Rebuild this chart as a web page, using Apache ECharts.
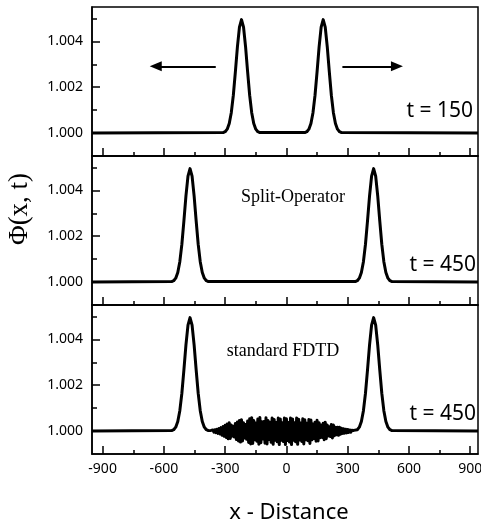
<!DOCTYPE html>
<html><head><meta charset="utf-8">
<script src="https://cdn.jsdelivr.net/npm/echarts@6/dist/echarts.min.js"></script>
<style>html,body{margin:0;padding:0;background:#fff}#c{width:481px;height:524px}</style>
</head><body><div id="c"></div>
<script>
// ---- axes ----
const xTicks = [-900, -600, -300, 0, 300, 600, 900];
const xMinorTicks = [-750, -450, -150, 150, 450, 750];
const yTicks = [1.000, 1.002, 1.004];
const yMinorTicks = [1.001, 1.003, 1.005];
const panelLabels = ['t = 150', 't = 450', 't = 450'];

// ---- panel 1 (t = 150) ----
const xTop = [-952,
  -310,-300,-290,-280,-270,-260,-250,-240,-230,-220,-210,-200,-190,-180,-170,-160,-150,-140,-130,
  90,100,110,120,130,140,150,160,170,180,190,200,210,220,230,240,250,260,270,
  938];
const yTop = [1.00000,
  1.00002,1.00006,1.00017,1.00042,1.00089,1.00165,1.00267,1.00376,1.00462,1.00495,1.00462,1.00376,1.00267,1.00165,1.00089,1.00042,1.00017,1.00006,1.00002,
  1.00002,1.00006,1.00017,1.00042,1.00089,1.00165,1.00267,1.00376,1.00462,1.00495,1.00462,1.00376,1.00267,1.00165,1.00089,1.00042,1.00017,1.00006,1.00002,
  1.00000];

// ---- panel 2 (Split-Operator, t = 450) ----
const xMid = [-952,
  -562,-552,-542,-532,-522,-512,-502,-492,-482,-472,-462,-452,-442,-432,-422,-412,-402,-392,-382,
  337,347,357,367,377,387,397,407,417,427,437,447,457,467,477,487,497,507,517,
  938];
const yMid = [1.00000,
  1.00002,1.00006,1.00017,1.00042,1.00089,1.00165,1.00267,1.00376,1.00462,1.00495,1.00462,1.00376,1.00267,1.00165,1.00089,1.00042,1.00017,1.00006,1.00002,
  1.00002,1.00006,1.00017,1.00042,1.00089,1.00165,1.00267,1.00376,1.00462,1.00495,1.00462,1.00376,1.00267,1.00165,1.00089,1.00042,1.00017,1.00006,1.00002,
  1.00000];

// ---- panel 3 (standard FDTD, t = 450) ----
const xBotLeft = [-952,
  -562,-552,-542,-532,-522,-512,-502,-492,-482,-472,-462,-452,-442,-432,-422,-412,-402,-392,-382];
const yBotLeft = [1.00000,
  1.00002,1.00006,1.00017,1.00042,1.00089,1.00165,1.00267,1.00376,1.00462,1.00495,1.00462,1.00376,1.00267,1.00165,1.00089,1.00042,1.00017,1.00006,1.00002];
const xNoise = [-380,-375,-370,-365,-360,-355,-350,-345,-340,-335,-330,-325,-320,-315,-310,-305,-300,-295,-290,-285,
  -280,-275,-270,-265,-260,-255,-250,-245,-240,-235,-230,-225,-220,-215,-210,-205,-200,-195,-190,-185,
  -180,-175,-170,-165,-160,-155,-150,-145,-140,-135,-130,-125,-120,-115,-110,-105,-100,-95,-90,-85,
  -80,-75,-70,-65,-60,-55,-50,-45,-40,-35,-30,-25,-20,-15,-10,-5,0,5,10,15,
  20,25,30,35,40,45,50,55,60,65,70,75,80,85,90,95,100,105,110,115,
  120,125,130,135,140,145,150,155,160,165,170,175,180,185,190,195,200,205,210,215,
  220,225,230,235,240,245,250,255,260,265,270,275,280,285,290,295,300,305,310,315,
  320,325,330,335];
// noise deviation from 1.000, in units of 1e-4
const noiseDev = [0.2,-0.3,0.3,-0.4,0.5,-0.5,0.6,-0.7,0.8,-1.0,1.1,-1.3,1.5,-1.8,2.0,-2.3,2.5,-2.8,3.1,-3.4,
  3.6,-3.2,2.6,-2.2,2.1,-2.6,3.3,-3.7,4.0,-4.3,4.6,-4.8,4.9,-4.3,3.6,-3.0,2.9,-3.6,4.4,-5.0,
  5.4,-5.6,5.8,-5.4,4.6,-3.8,3.5,-4.4,5.3,-5.7,5.9,-5.1,4.1,-3.5,4.2,-5.3,5.8,-5.6,4.6,-3.7,
  3.8,-4.9,5.7,-5.8,5.1,-4.0,3.7,-4.7,5.7,-5.9,5.3,-4.0,3.6,-4.6,5.7,-5.9,5.4,-4.1,3.7,-4.8,
  5.7,-5.9,5.3,-4.0,3.6,-4.7,5.7,-5.8,5.2,-3.9,3.5,-4.5,5.4,-5.6,4.9,-3.8,3.4,-4.2,5.1,-5.4,
  4.8,-3.8,3.1,-3.2,3.9,-4.4,4.7,-4.3,3.6,-2.9,2.6,-2.8,3.4,-3.8,3.9,-3.3,2.6,-2.1,1.9,-2.4,
  2.9,-3.0,2.6,-2.0,1.7,-1.6,1.7,-1.8,1.7,-1.4,1.2,-1.0,1.0,-0.9,0.8,-0.8,0.7,-0.6,0.5,-0.5,
  0.4,-0.3,0.3,-0.2];
const xBotRight = [337,347,357,367,377,387,397,407,417,427,437,447,457,467,477,487,497,507,517, 938];
const yBotRight = [1.00002,1.00006,1.00017,1.00042,1.00089,1.00165,1.00267,1.00376,1.00462,1.00495,1.00462,1.00376,1.00267,1.00165,1.00089,1.00042,1.00017,1.00006,1.00002, 1.00000];

// ---- arrows (panel 1) ----
const arrowLeft = [[-346, 1.00291], [-640, 1.00291]];
const arrowRight = [[274, 1.00291], [541, 1.00291]];

const zip = (xs, ys) => xs.map((x, i) => [x, ys[i]]);
const panel1 = zip(xTop, yTop);
const panel2 = zip(xMid, yMid);
const panel3 = zip(xBotLeft, yBotLeft)
  .concat(xNoise.map((x, i) => [x, 1 + noiseDev[i] * 1e-4]))
  .concat(zip(xBotRight, yBotRight));

const X_MIN = -952, X_MAX = 938, Y_MIN = 0.999, Y_MAX = 1.0055;
const tops = [7, 156, 305];
const H = 149;
const black = '#000';
const labelFont = 'Noto Sans';

const grids = tops.map(t => ({left: 92, right: 3, top: t, height: H, show: true, borderColor: black, borderWidth: 1.5,
  backgroundColor: 'transparent', containLabel: false, outerBoundsMode: 'none'}));

const xAxes = [];
const yAxes = [];
[0,1,2].forEach(g => {
  xAxes.push({
    type: 'value', gridIndex: g, min: X_MIN, max: X_MAX, position: 'bottom',
    axisLine: {show: true, onZero: false, lineStyle: {color: black, width: 1.5}},
    axisTick: {show: true, inside: true, length: 8, customValues: xTicks, lineStyle: {color: black, width: 1.5}},
    axisLabel: {show: g === 2, customValues: xTicks, color: black, fontFamily: labelFont, fontSize: 14, margin: 8},
    splitLine: {show: false}
  });
  yAxes.push({
    type: 'value', gridIndex: g, min: Y_MIN, max: Y_MAX, position: 'left',
    axisLine: {show: true, onZero: false, lineStyle: {color: black, width: 1.5}},
    axisTick: {show: true, inside: true, length: 8, customValues: yTicks, lineStyle: {color: black, width: 1.5}},
    axisLabel: {show: true, customValues: yTicks, color: black, fontFamily: labelFont, fontSize: 14, margin: 9,
      formatter: v => Number(v).toFixed(3)},
    splitLine: {show: false}
  });
});
[0,1,2].forEach(g => {
  xAxes.push({
    type: 'value', gridIndex: g, min: X_MIN, max: X_MAX, position: 'bottom',
    axisLine: {show: false, onZero: false},
    axisTick: {show: true, inside: true, length: 4, customValues: xMinorTicks, lineStyle: {color: black, width: 1.5}},
    axisLabel: {show: false}, splitLine: {show: false}
  });
  yAxes.push({
    type: 'value', gridIndex: g, min: Y_MIN, max: Y_MAX, position: 'left',
    axisLine: {show: false, onZero: false},
    axisTick: {show: true, inside: true, length: 5, customValues: yMinorTicks, lineStyle: {color: black, width: 1.5}},
    axisLabel: {show: false}, splitLine: {show: false}
  });
});

const lineSeries = (data, g, extra) => Object.assign({
  type: 'line', xAxisIndex: g, yAxisIndex: g, data: data, showSymbol: false, symbol: 'none',
  lineStyle: {color: black, width: 3, join: 'round'}, silent: true, animation: false
}, extra || {});

const arrowMark = {
  silent: true, symbol: ['none', 'triangle'], symbolSize: [10, 12],
  lineStyle: {color: black, width: 2, type: 'solid'}, label: {show: false},
  itemStyle: {color: black},
  emphasis: {disabled: true},
  data: [
    [{coord: arrowLeft[0]}, {coord: arrowLeft[1]}],
    [{coord: arrowRight[0]}, {coord: arrowRight[1]}]
  ]
};

const series = [
  lineSeries(panel1, 0, {markLine: arrowMark}),
  lineSeries(panel2, 1),
  lineSeries(panel3, 2)
];

const txt = (text, x, y, font, size, align, rot) => ({
  type: 'text', x: x, y: y, rotation: rot || 0, silent: true,
  style: {text: text, fill: black, font: size + 'px "' + font + '"', textAlign: align || 'center', textVerticalAlign: 'middle'}
});

const graphic = [
  txt(panelLabels[0], 473, 111, 'Noto Sans', 21, 'right'),
  txt(panelLabels[1], 476, 265, 'Noto Sans', 21, 'right'),
  txt(panelLabels[2], 476, 414, 'Noto Sans', 21, 'right'),
  txt('Split-Operator', 293, 197, 'Liberation Serif', 18),
  txt('standard FDTD', 283, 351, 'Liberation Serif', 18),
  txt('Φ(x, t)', 20, 209, 'Liberation Serif', 27, 'center', Math.PI / 2),
  txt('x - Distance', 289, 513, 'Noto Sans', 22)
];

const chart = echarts.init(document.getElementById('c'), null, {renderer: 'canvas'});
chart.setOption({
  animation: false,
  backgroundColor: '#fff',
  grid: grids, xAxis: xAxes, yAxis: yAxes, series: series, graphic: graphic
});
</script>
</body></html>
